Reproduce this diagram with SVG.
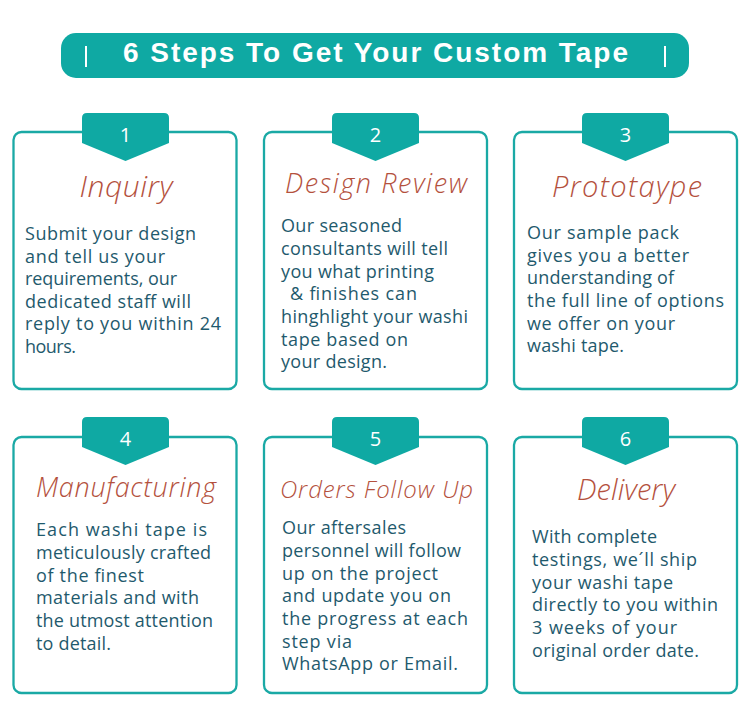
<svg xmlns="http://www.w3.org/2000/svg" width="751" height="726" viewBox="0 0 751 726">
<style>
.card{fill:#ffffff;stroke:#1aa9a5;stroke-width:2.3}
.badge{fill:#0fa9a3}
.num{font-family:"Open Sans","Liberation Sans",sans-serif;font-size:20px;fill:#ffffff;text-anchor:middle}
.title{font-family:"Open Sans","Liberation Sans",sans-serif;font-style:italic;font-weight:300;fill:#b4513d;text-anchor:middle}
.body{font-family:"Open Sans","Liberation Sans",sans-serif;font-size:18px;fill:#1f5a6d}
.head{font-family:"Liberation Sans",Arial,sans-serif;font-weight:bold;font-size:28px;fill:#ffffff}
</style>
<rect width="751" height="726" fill="#ffffff"/>
<g id="header">
<rect x="61" y="33" width="628" height="45" rx="15" fill="#0fa9a3"/>
<rect x="85" y="46" width="2" height="21" fill="#ffffff"/>
<rect x="664" y="46" width="2" height="21" fill="#ffffff"/>
<text class="head" x="123" y="62" textLength="505" lengthAdjust="spacing">6 Steps To Get Your Custom Tape</text>
</g>
<g id="connectors"></g>
<g id="step1">
<rect class="card" x="13.5" y="132" width="223" height="257" rx="8"/>
<path class="badge" d="M82 118Q82 113 87 113H164Q169 113 169 118V143L125.5 161L82 143Z"/>
<text class="num" x="125.5" y="142">1</text>
<text class="title" x="126" y="197" font-size="30" textLength="93" lengthAdjust="spacing">Inquiry</text>
<text class="body" x="25" y="240" textLength="171" lengthAdjust="spacing">Submit your design</text>
<text class="body" x="25" y="262.5" textLength="140" lengthAdjust="spacing">and tell us your</text>
<text class="body" x="25" y="285" textLength="152" lengthAdjust="spacing">requirements, our</text>
<text class="body" x="25" y="307.5" textLength="166" lengthAdjust="spacing">dedicated staff will</text>
<text class="body" x="25" y="330" textLength="196" lengthAdjust="spacing">reply to you within 24</text>
<text class="body" x="25" y="352.5" textLength="51" lengthAdjust="spacing">hours.</text>
</g>
<g id="step2">
<rect class="card" x="264" y="132" width="223" height="257" rx="8"/>
<path class="badge" d="M332 118Q332 113 337 113H414Q419 113 419 118V143L375.5 161L332 143Z"/>
<text class="num" x="375.5" y="142">2</text>
<text class="title" x="376" y="193" font-size="27" textLength="182" lengthAdjust="spacing">Design Review</text>
<text class="body" x="281" y="232" textLength="121" lengthAdjust="spacing">Our seasoned</text>
<text class="body" x="281" y="255" textLength="167" lengthAdjust="spacing">consultants will tell</text>
<text class="body" x="281" y="277.5" textLength="153" lengthAdjust="spacing">you what printing</text>
<text class="body" x="290" y="300" textLength="127" lengthAdjust="spacing">&amp; finishes can</text>
<text class="body" x="281" y="323" textLength="187" lengthAdjust="spacing">hinghlight your washi</text>
<text class="body" x="281" y="345.5" textLength="127" lengthAdjust="spacing">tape based on</text>
<text class="body" x="281" y="368" textLength="106" lengthAdjust="spacing">your design.</text>
</g>
<g id="step3">
<rect class="card" x="514" y="132" width="223" height="257" rx="8"/>
<path class="badge" d="M582 118Q582 113 587 113H664Q669 113 669 118V143L625.5 161L582 143Z"/>
<text class="num" x="625.5" y="142">3</text>
<text class="title" x="627" y="197" font-size="29" textLength="150" lengthAdjust="spacing">Prototaype</text>
<text class="body" x="527" y="239" textLength="152" lengthAdjust="spacing">Our sample pack</text>
<text class="body" x="527" y="261.5" textLength="162" lengthAdjust="spacing">gives you a better</text>
<text class="body" x="527" y="284" textLength="147" lengthAdjust="spacing">understanding of</text>
<text class="body" x="527" y="306.5" textLength="197" lengthAdjust="spacing">the full line of options</text>
<text class="body" x="527" y="329.5" textLength="148" lengthAdjust="spacing">we offer on your</text>
<text class="body" x="527" y="352" textLength="97" lengthAdjust="spacing">washi tape.</text>
</g>
<g id="step4">
<rect class="card" x="13.5" y="437" width="223" height="256" rx="8"/>
<path class="badge" d="M82 422Q82 417 87 417H164Q169 417 169 422V447L125.5 465L82 447Z"/>
<text class="num" x="125.5" y="446">4</text>
<text class="title" x="126" y="497" font-size="27" textLength="180" lengthAdjust="spacing">Manufacturing</text>
<text class="body" x="36" y="536" textLength="171" lengthAdjust="spacing">Each washi tape is</text>
<text class="body" x="36" y="559" textLength="175" lengthAdjust="spacing">meticulously crafted</text>
<text class="body" x="36" y="581.5" textLength="108" lengthAdjust="spacing">of the finest</text>
<text class="body" x="36" y="604" textLength="163" lengthAdjust="spacing">materials and with</text>
<text class="body" x="36" y="627" textLength="177" lengthAdjust="spacing">the utmost attention</text>
<text class="body" x="36" y="650" textLength="75" lengthAdjust="spacing">to detail.</text>
</g>
<g id="step5">
<rect class="card" x="264" y="437" width="223" height="256" rx="8"/>
<path class="badge" d="M332 422Q332 417 337 417H414Q419 417 419 422V447L375.5 465L332 447Z"/>
<text class="num" x="375.5" y="446">5</text>
<text class="title" x="376.5" y="498" font-size="24" textLength="193" lengthAdjust="spacing">Orders Follow Up</text>
<text class="body" x="282" y="534" textLength="124" lengthAdjust="spacing">Our aftersales</text>
<text class="body" x="282" y="557" textLength="179" lengthAdjust="spacing">personnel will follow</text>
<text class="body" x="282" y="579.5" textLength="156" lengthAdjust="spacing">up on the project</text>
<text class="body" x="282" y="602" textLength="169" lengthAdjust="spacing">and update you on</text>
<text class="body" x="282" y="625" textLength="186" lengthAdjust="spacing">the progress at each</text>
<text class="body" x="282" y="647.5" textLength="70" lengthAdjust="spacing">step via</text>
<text class="body" x="282" y="670" textLength="176" lengthAdjust="spacing">WhatsApp or Email.</text>
</g>
<g id="step6">
<rect class="card" x="514" y="437" width="223" height="256" rx="8"/>
<path class="badge" d="M582 422Q582 417 587 417H664Q669 417 669 422V447L625.5 465L582 447Z"/>
<text class="num" x="625.5" y="446">6</text>
<text class="title" x="626" y="500" font-size="29" textLength="98" lengthAdjust="spacing">Delivery</text>
<text class="body" x="532" y="543" textLength="125" lengthAdjust="spacing">With complete</text>
<text class="body" x="532" y="566" textLength="165" lengthAdjust="spacing">testings, we´ll ship</text>
<text class="body" x="532" y="588.5" textLength="141" lengthAdjust="spacing">your washi tape</text>
<text class="body" x="532" y="611" textLength="186" lengthAdjust="spacing">directly to you within</text>
<text class="body" x="532" y="634" textLength="145" lengthAdjust="spacing">3 weeks of your</text>
<text class="body" x="532" y="657" textLength="167" lengthAdjust="spacing">original order date.</text>
</g>
</svg>
